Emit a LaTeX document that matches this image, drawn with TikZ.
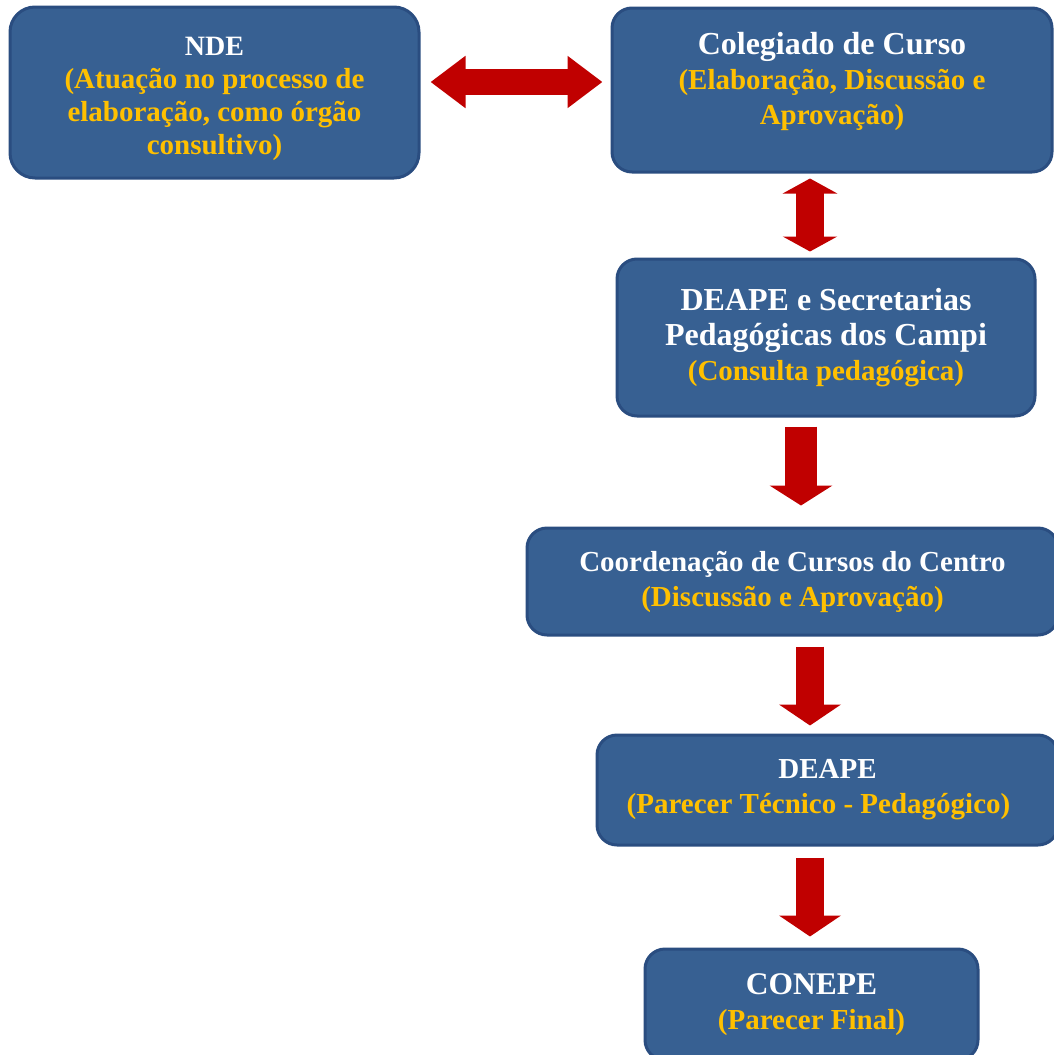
\documentclass[tikz,border=0pt]{standalone}
\usepackage{fontspec}
\setmainfont{Liberation Serif}
\usepackage{tikz}
\usetikzlibrary{arrows.meta}
\definecolor{boxblue}{HTML}{376092}
\definecolor{boxline}{HTML}{2A4D80}
\definecolor{subyellow}{HTML}{FFC000}
\definecolor{arrowred}{HTML}{C00000}
\newcommand{\sub}[1]{\textcolor{subyellow}{#1}}

\begin{document}
\begin{tikzpicture}[x=1pt,y=-1pt,semithick]
  \tikzstyle{box}=[draw=boxline,line width=3pt,fill=boxblue,rounded corners=20pt,
                   inner sep=0pt,align=center,text=white,font=\bfseries\fontsize{29}{35}\selectfont]
  \tikzstyle{bigarrow}=[draw=arrowred,line width=28pt,-{Triangle[width=61pt,length=21pt]}]
  \tikzstyle{bothways}=[draw=arrowred,line width=26pt,
                        {Triangle[width=50pt,length=35pt]}-{Triangle[width=50pt,length=35pt]}]

  \useasboundingbox (0,0) rectangle (1053,1055);

  \node[box,rounded corners=25pt,minimum width=409pt,minimum height=171pt,
        font=\bfseries\fontsize{29}{33}\selectfont,text height=140pt,text depth=17pt] (nde) at (214.5,92.5)
        {{\fontsize{28}{33}\selectfont NDE}\\ \sub{(Atuação no processo de}\\
         \sub{elaboração, como órgão}\\ \sub{consultivo)}};
  \node[box,minimum width=440pt,minimum height=164pt] (col) at (832,90)
        {{\fontsize{32}{35}\selectfont Colegiado de Curso}\\ \sub{(Elaboração, Discussão e}\\ \sub{Aprovação)}\\[-12pt]\mbox{}};
  \node[box,minimum width=418pt,minimum height=157pt] (sec)    at (826,337.5)
        {\fontsize{32}{36.5}\selectfont DEAPE e Secretarias\\ \fontsize{32}{36.5}\selectfont Pedagógicas dos Campi\\
         \fontsize{29}{36.5}\selectfont\sub{(Consulta pedagógica)}};
  \node[box,minimum width=531pt,minimum height=107pt] (coord)  at (792.5,581.5)
        {Coordenação de Cursos do Centro\\ \sub{(Discussão e Aprovação)}};
  \node[box,minimum width=461pt,minimum height=110pt] (deape)  at (827.5,790)
        {DEAPE\\ \sub{(Parecer Técnico - Pedagógico)}\hspace*{18pt}};
  \node[box,minimum width=333pt,minimum height=111pt] (conepe) at (811.5,1004.5)
        {{\fontsize{31.5}{35}\selectfont CONEPE}\\ \sub{(Parecer Final)}};

  \path[bothways] ([xshift=10pt,yshift=10.5pt]nde.east) -- ([xshift=-8pt,yshift=8pt]col.west);
  \path[bothways,line width=28pt,{Triangle[width=54pt,length=15pt]}-{Triangle[width=54pt,length=15pt]}]
        ([xshift=-22pt,yshift=-5pt]col.south) -- ([xshift=-16pt,yshift=6pt]sec.north);
  \path[bigarrow,line width=32pt,-{Triangle[width=62pt,length=20pt]}]
        ([xshift=-25pt,yshift=-9pt]sec.south) -- ([xshift=8.5pt,yshift=21pt]coord.north);
  \path[bigarrow] ([xshift=17.5pt,yshift=-10pt]coord.south) -- ([xshift=-17.5pt,yshift=8pt]deape.north);
  \path[bigarrow] ([xshift=-17.5pt,yshift=-11pt]deape.south) -- ([xshift=-1.5pt,yshift=11pt]conepe.north);
\end{tikzpicture}
\end{document}
